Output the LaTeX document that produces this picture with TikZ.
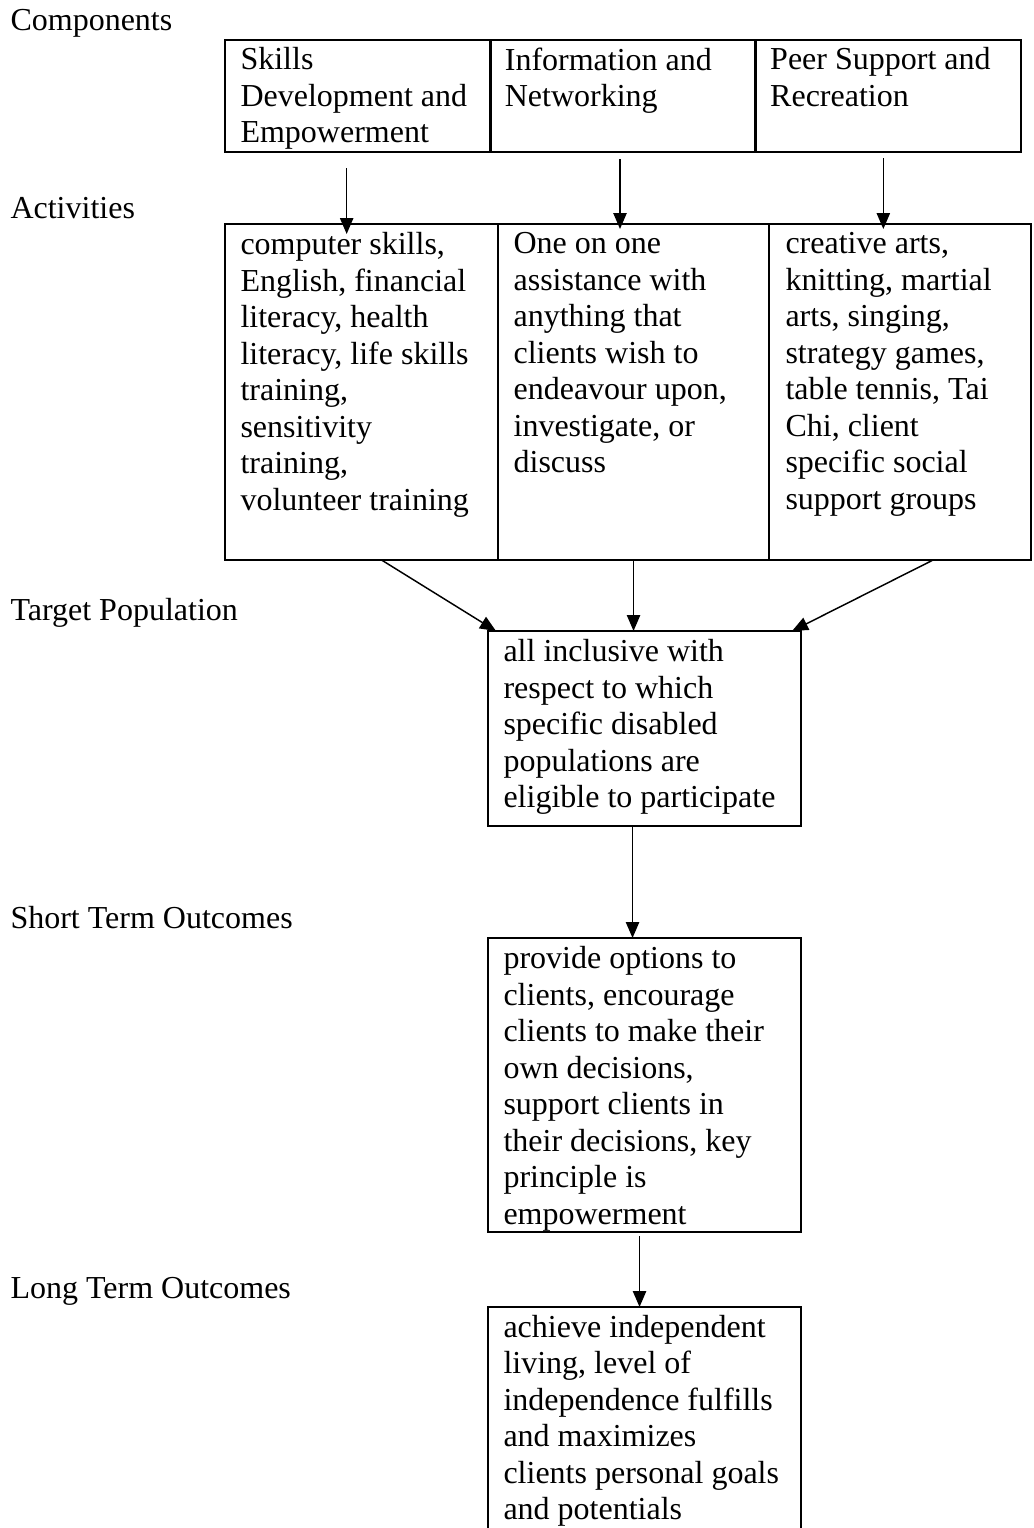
\documentclass[tikz,border=0pt]{standalone}
\usepackage{fontspec}
\setmainfont{Liberation Serif}
\usetikzlibrary{arrows.meta,positioning,calc}
\tikzset{
  frame/.style={draw, line width=0.95pt, inner sep=0pt, outer sep=0pt, anchor=north west},
  cell/.style={anchor=north west, inner sep=0pt, align=left, font=\fontsize{12}{13.7}\selectfont, execute at begin node=\strut},
  lbl/.style={anchor=base west, inner sep=0pt, font=\fontsize{12}{13.7}\selectfont},
  flow/.style={line width=0.55pt, -{Triangle[length=6pt, width=5pt]}}
}

\begin{document}
\begin{tikzpicture}[x=0.375pt, y=-0.375pt]
  \useasboundingbox (0,0) rectangle (1034,1528);
  % row labels
  \node[lbl] (lcomp) at (10,30) {Components};
  \node[lbl] (lact) at (10,218) {Activities};
  \node[lbl] (ltarget) at (10,620) {Target Population};
  \node[lbl] (lshort) at (10,928) {Short Term Outcomes};
  \node[lbl] (llong) at (10,1298) {Long Term Outcomes};
  % components
  \node[frame, minimum width=99.5pt, minimum height=42pt] (comp1) at (225,40) {};
  \node[frame, minimum width=99.5pt, minimum height=42pt] (comp2) at (comp1.north east) {};
  \node[frame, minimum width=99.5pt, minimum height=42pt] (comp3) at (comp2.north east) {};
  \node[cell] (tcomp1) at ($(comp1.north west)+(15,7)$) {Skills\\Development and\\Empowerment};
  \node[cell] (tcomp2) at ($(comp2.north west)+(14,7)$) {Information and\\Networking};
  \node[cell] (tcomp3) at ($(comp3.north west)+(14,7)$) {Peer Support and\\Recreation};
  % activities
  \node[frame, minimum width=102.4pt, minimum height=126pt] (act1) at (225,224) {};
  \node[frame, minimum width=101.6pt, minimum height=126pt] (act2) at (act1.north east) {};
  \node[frame, minimum width=98.3pt, minimum height=126pt] (act3) at (act2.north east) {};
  \node[cell] (tact1) at ($(act1.north west)+(15,8)$) {computer skills,\\English, financial\\literacy, health\\literacy, life skills\\training,\\sensitivity\\training,\\volunteer training};
  \node[cell] (tact2) at ($(act2.north west)+(15,8)$) {One on one\\assistance with\\anything that\\clients wish to\\endeavour upon,\\investigate, or\\discuss};
  \node[cell] (tact3) at ($(act3.north west)+(16,8)$) {creative arts,\\knitting, martial\\arts, singing,\\strategy games,\\table tennis, Tai\\Chi, client\\specific social\\support groups};
  % target population
  \node[frame, minimum width=117.4pt, minimum height=73.1pt] (target) at (488,631) {};
  \node[cell] (ttarget) at ($(target.north west)+(15,8)$) {all inclusive with\\respect to which\\specific disabled\\populations are\\eligible to participate};
  % outcomes
  \node[frame, minimum width=117.4pt, minimum height=110.3pt] (short) at (488,938) {};
  \node[cell] (tshort) at ($(short.north west)+(15,8)$) {provide options to\\clients, encourage\\clients to make their\\own decisions,\\support clients in\\their decisions, key\\principle is\\empowerment};
  \node[frame, minimum width=117.4pt, minimum height=90pt] (long) at (488,1307) {};
  \node[cell] (tlong) at ($(long.north west)+(15,7.5)$) {achieve independent\\living, level of\\independence fulfills\\and maximizes\\clients personal goals\\and potentials};
  % arrows
  \draw[flow] ($(comp1.south)+(-11,16)$) -- ($(comp1.south |- act1.north)+(-11,10)$);
  \draw[flow] ($(comp2.south)+(-3,7)$) -- ($(comp2.south |- act2.north)+(-3,5)$);
  \draw[flow] ($(comp3.south)+(-5,6)$) -- ($(comp3.south |- act3.north)+(-5,5)$);
  \draw[flow] ($(act1.south)+(20,0)$) -- ($(target.north west)+(8,0)$);
  \draw[flow] (act2.south) -- (act2.south |- target.north);
  \draw[flow] ($(act3.south)+(33,0)$) -- ($(target.north east)+(-9,0)$);
  \draw[flow] ($(target.south)+(-12,0)$) -- ($(target.south |- short.north)+(-12,0)$);
  \draw[flow] ($(short.south)+(-5,4)$) -- ($(short.south |- long.north)+(-5,0)$);
\end{tikzpicture}
\end{document}
